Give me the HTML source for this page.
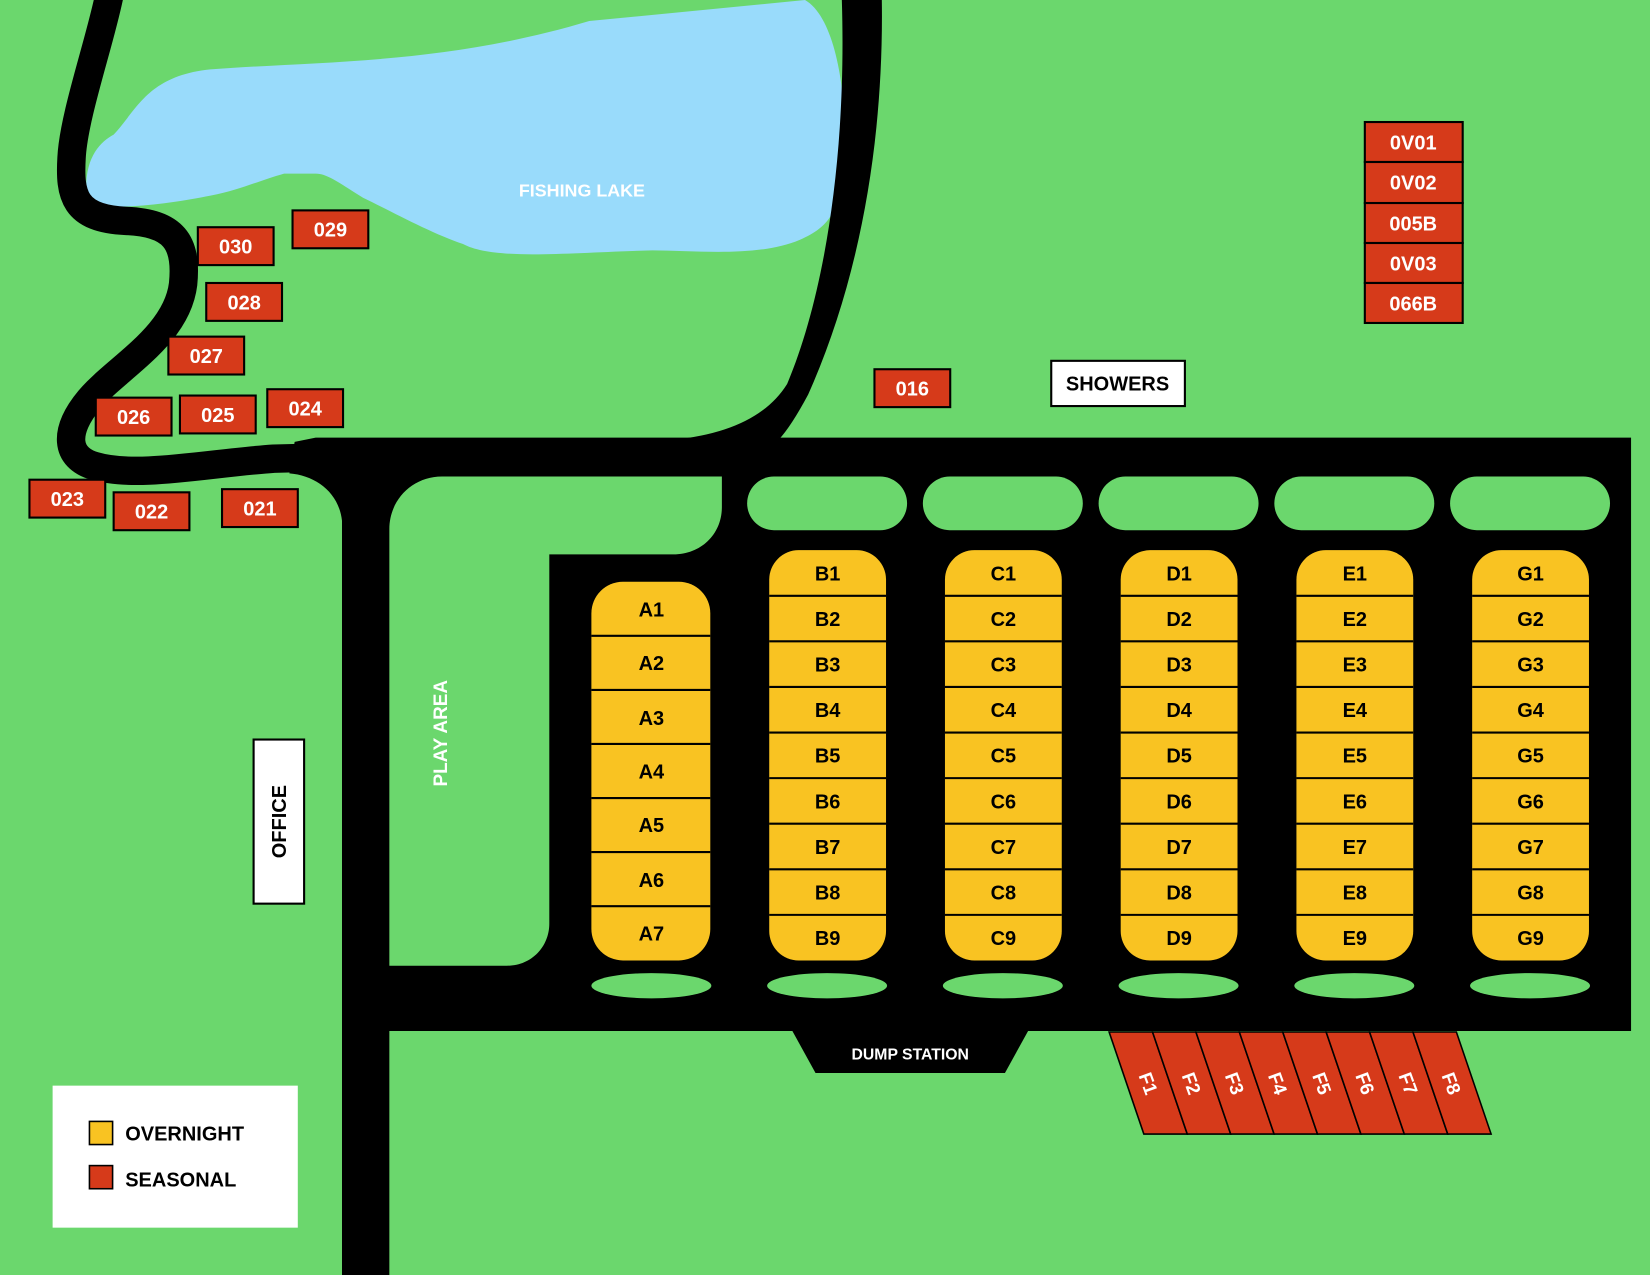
<!DOCTYPE html>
<html><head><meta charset="utf-8"><style>
html,body{margin:0;padding:0;background:#6bd76d;}
svg{display:block}
text{font-family:"Liberation Sans",sans-serif;font-weight:bold}
</style></head><body>
<svg width="1650" height="1275" viewBox="0 0 1568 1212" preserveAspectRatio="none" xmlns="http://www.w3.org/2000/svg">
<rect x="0" y="0" width="1568" height="1212" fill="#6bd76d"/>
<!-- lake -->
<path d="M82,185 C80,150 95,135 108,128 C130,105 140,72 200,66 C300,58 420,62 560,20 L765,0 C800,20 808,120 800,170 C795,200 790,215 760,228 C720,245 660,238 620,238 C540,240 470,248 440,232 C410,222 370,200 345,188 C320,172 310,165 300,165 L270,165 C245,172 230,180 200,186 C170,192 130,198 100,196 C88,195 82,192 82,185 Z" fill="#99dbfb"/>
<text x="553" y="187" fill="#fff" font-size="17" text-anchor="middle">FISHING LAKE</text>
<!-- roads -->
<path d="M104,-5 C95,40 70,110 68,150 C66,185 70,208 120,210 C165,212 178,230 174,270 C168,320 110,350 85,380 C60,410 62,435 90,443 C130,455 200,440 260,436 L340,434" fill="none" stroke="#000" stroke-width="27"/>
<path d="M800,0 L838,0 C840,140 815,270 768,375 Q752,405 740,418 L640,418 Q720,410 748,365 C780,290 805,160 800,0 Z" fill="#000"/>
<path d="M300,416 L1550,416 L1550,980 L977,980 L955,1020 L775,1020 L753,980 L370,980 L370,1212 L325,1212 L325,495 C322,468 300,452 275,450 L280,420 Z" fill="#000"/>
<text x="865" y="1007" fill="#fff" font-size="15" text-anchor="middle">DUMP STATION</text>
<!-- play area -->
<path d="M420,453 L686,453 L686,482 C686,508 666,527 640,527 L522,527 L522,878 C522,900 505,918 482,918 L370,918 L370,503 C370,475 392,453 420,453 Z" fill="#6bd76d"/>
<text transform="translate(425,697) rotate(-90)" fill="#fff" font-size="18" text-anchor="middle">PLAY AREA</text>
<!-- top pills -->
<g fill="#6bd76d">
<rect x="710" y="453" width="152" height="51" rx="25.5"/>
<rect x="877" y="453" width="152" height="51" rx="25.5"/>
<rect x="1044" y="453" width="152" height="51" rx="25.5"/>
<rect x="1211" y="453" width="152" height="51" rx="25.5"/>
<rect x="1378" y="453" width="152" height="51" rx="25.5"/>
<ellipse cx="619" cy="937" rx="57" ry="12"/>
<ellipse cx="786" cy="937" rx="57" ry="12"/>
<ellipse cx="953" cy="937" rx="57" ry="12"/>
<ellipse cx="1120" cy="937" rx="57" ry="12"/>
<ellipse cx="1287" cy="937" rx="57" ry="12"/>
<ellipse cx="1454" cy="937" rx="57" ry="12"/>
</g>
<!-- A column -->
<rect x="562" y="553" width="113" height="360" rx="30" fill="#f9c322"/>
<g stroke="#000" stroke-width="2">
<line x1="562" y1="604.4" x2="675" y2="604.4"/><line x1="562" y1="655.8" x2="675" y2="655.8"/><line x1="562" y1="707.2" x2="675" y2="707.2"/><line x1="562" y1="758.6" x2="675" y2="758.6"/><line x1="562" y1="810" x2="675" y2="810"/><line x1="562" y1="861.4" x2="675" y2="861.4"/>
</g>
<g font-size="19" text-anchor="middle" fill="#000">
<text x="619" y="586">A1</text><text x="619" y="637">A2</text><text x="619" y="689">A3</text><text x="619" y="740">A4</text><text x="619" y="791">A5</text><text x="619" y="843">A6</text><text x="619" y="894">A7</text>
</g>
<!-- B-G columns -->
<g id="cols"></g>
<script>
(function(){
var ns="http://www.w3.org/2000/svg",g=document.getElementById('cols');
var xs=[731,898,1065,1232,1399],ls=['B','C','D','E','G'];
for(var c=0;c<5;c++){
 var r=document.createElementNS(ns,'rect');
 r.setAttribute('x',xs[c]);r.setAttribute('y',523);r.setAttribute('width',111);r.setAttribute('height',390);r.setAttribute('rx',28);r.setAttribute('fill','#f9c322');g.appendChild(r);
 var h=390/9;
 for(var i=0;i<9;i++){
  if(i>0){var l=document.createElementNS(ns,'line');l.setAttribute('x1',xs[c]);l.setAttribute('x2',xs[c]+111);l.setAttribute('y1',523+i*h);l.setAttribute('y2',523+i*h);l.setAttribute('stroke','#000');l.setAttribute('stroke-width',2);g.appendChild(l);}
  var t=document.createElementNS(ns,'text');t.setAttribute('x',xs[c]+55.5);t.setAttribute('y',523+i*h+h/2+7);t.setAttribute('font-size',19);t.setAttribute('text-anchor','middle');t.textContent=ls[c]+(i+1);g.appendChild(t);
 }
}
})();
</script>
<!-- F sites -->
<g stroke="#000" stroke-width="1.5" fill="#d63a1a">
<polygon points="1054,981 1095.25,981 1128.25,1078 1087,1078"/>
<polygon points="1095.25,981 1136.5,981 1169.5,1078 1128.25,1078"/>
<polygon points="1136.5,981 1177.75,981 1210.75,1078 1169.5,1078"/>
<polygon points="1177.75,981 1219,981 1252,1078 1210.75,1078"/>
<polygon points="1219,981 1260.25,981 1293.25,1078 1252,1078"/>
<polygon points="1260.25,981 1301.5,981 1334.5,1078 1293.25,1078"/>
<polygon points="1301.5,981 1342.75,981 1375.75,1078 1334.5,1078"/>
<polygon points="1342.75,981 1384,981 1417,1078 1375.75,1078"/>
</g>
<g fill="#fff" font-size="18" text-anchor="middle">
<text transform="translate(1091,1030) rotate(70)" dy="6">F1</text>
<text transform="translate(1132,1030) rotate(70)" dy="6">F2</text>
<text transform="translate(1173,1030) rotate(70)" dy="6">F3</text>
<text transform="translate(1214,1030) rotate(70)" dy="6">F4</text>
<text transform="translate(1256,1030) rotate(70)" dy="6">F5</text>
<text transform="translate(1297,1030) rotate(70)" dy="6">F6</text>
<text transform="translate(1338,1030) rotate(70)" dy="6">F7</text>
<text transform="translate(1379,1030) rotate(70)" dy="6">F8</text>
</g>
<!-- seasonal boxes -->
<g fill="#d63a1a" stroke="#000" stroke-width="2">
<rect x="188" y="216" width="72" height="36"/><rect x="278" y="200" width="72" height="36"/>
<rect x="196" y="269" width="72" height="36"/><rect x="160" y="320" width="72" height="36"/>
<rect x="91" y="378" width="72" height="36"/><rect x="171" y="376" width="72" height="36"/>
<rect x="254" y="370" width="72" height="36"/><rect x="28" y="456" width="72" height="36"/>
<rect x="108" y="468" width="72" height="36"/><rect x="211" y="465" width="72" height="36"/>
<rect x="831" y="351" width="72" height="36"/>
<rect x="1297" y="116" width="93" height="38"/><rect x="1297" y="154" width="93" height="39"/>
<rect x="1297" y="193" width="93" height="38"/><rect x="1297" y="231" width="93" height="38"/>
<rect x="1297" y="269" width="93" height="38"/>
</g>
<g fill="#fff" font-size="19" text-anchor="middle">
<text x="224" y="241">030</text><text x="314" y="225">029</text>
<text x="232" y="294">028</text><text x="196" y="345">027</text>
<text x="127" y="403">026</text><text x="207" y="401">025</text>
<text x="290" y="395">024</text><text x="64" y="481">023</text>
<text x="144" y="493">022</text><text x="247" y="490">021</text>
<text x="867" y="376">016</text>
<text x="1343" y="142">0V01</text><text x="1343" y="180">0V02</text>
<text x="1343" y="219">005B</text><text x="1343" y="257">0V03</text>
<text x="1343" y="295">066B</text>
</g>
<!-- showers & office -->
<rect x="999" y="343" width="127" height="43" fill="#fff" stroke="#000" stroke-width="2"/>
<text x="1062" y="371" font-size="19" text-anchor="middle" fill="#000">SHOWERS</text>
<rect x="241" y="703" width="48" height="156" fill="#fff" stroke="#000" stroke-width="2"/>
<text transform="translate(272,781) rotate(-90)" font-size="19" text-anchor="middle" fill="#000">OFFICE</text>
<!-- legend -->
<rect x="50" y="1032" width="233" height="135" fill="#fff"/>
<rect x="85" y="1066" width="22" height="22" fill="#f9c322" stroke="#000" stroke-width="1.5"/>
<rect x="85" y="1108" width="22" height="22" fill="#d63a1a" stroke="#000" stroke-width="1.5"/>
<text x="119" y="1084" font-size="19" fill="#000">OVERNIGHT</text>
<text x="119" y="1128" font-size="19" fill="#000">SEASONAL</text>
</svg>
</body></html>
